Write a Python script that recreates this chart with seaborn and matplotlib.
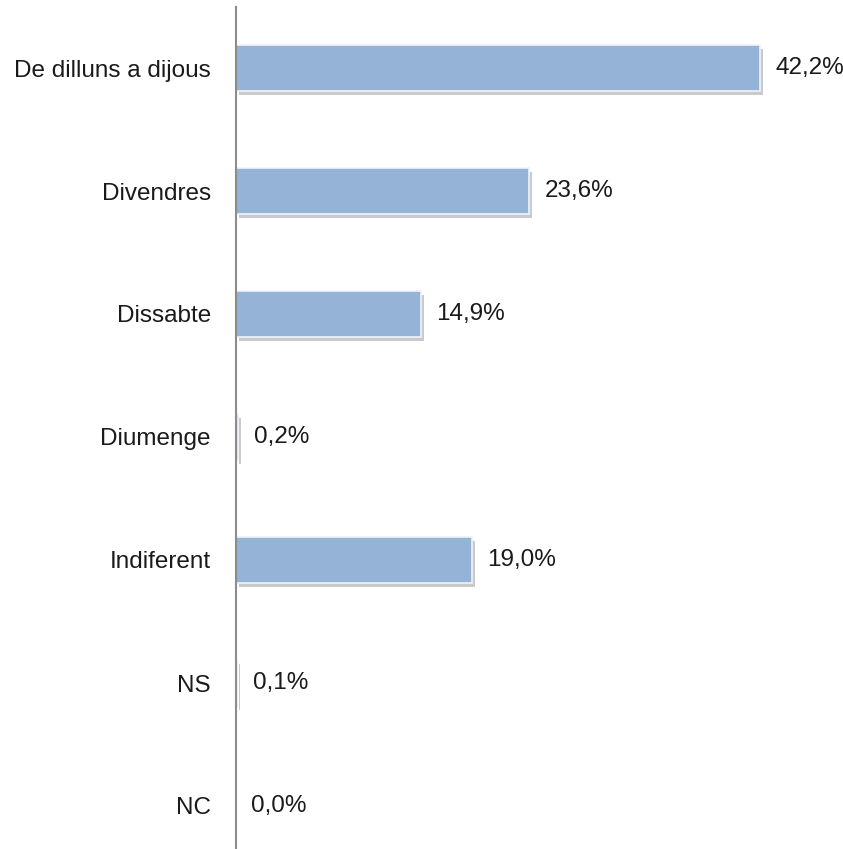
"""Horizontal bar chart: preferred day."""

import matplotlib
matplotlib.use('Agg')
import matplotlib.pyplot as plt
import matplotlib.patheffects as pe
import seaborn as sns

categories = ['De dilluns a dijous', 'Divendres', 'Dissabte', 'Diumenge',
              'Indiferent', 'NS', 'NC']
values = [42.2, 23.6, 14.9, 0.2, 19.0, 0.1, 0.0]

sns.set_style('white')
plt.rcParams['font.family'] = ['Liberation Sans', 'DejaVu Sans']

W, H = 843, 849
fig = plt.figure(figsize=(W / 100, H / 100), dpi=100)
# axis line starts near the top, bottom runs past the image edge
left, top, step = 236, 6.5, 123
bottom = top + step * len(categories)
ax = fig.add_axes([left / W, 1 - bottom / H, (W - left) / W, (bottom - top) / H])

sns.barplot(x=values, y=categories, orient='h', color='#95B3D7',
            width=0.375, saturation=1, edgecolor='#EEF3F9', linewidth=1.2, ax=ax)

for bar in ax.patches:
    bar.set_path_effects([
        pe.SimplePatchShadow(offset=(2, -3), shadow_rgbFace='#8a8a8a', alpha=0.45),
        pe.Normal(),
    ])

for i, v in enumerate(values):
    ax.annotate(f'{v:.1f}%'.replace('.', ','), xy=(v, i), xytext=(11, 0),
                textcoords='offset points', va='center', ha='left',
                fontsize=17.5, color='#1a1a1a')

ax.set_xlim(0, (W - left) / 12.42)
ax.set_ylim(len(categories) - 0.5, -0.5)
ax.set_xlabel('')
ax.set_ylabel('')
ax.set_xticks([])
ax.tick_params(axis='y', length=0, pad=18, labelsize=17.5, labelcolor='#1a1a1a')

for side in ['top', 'right', 'bottom']:
    ax.spines[side].set_visible(False)
ax.spines['left'].set_color('#8c8c8c')
ax.spines['left'].set_linewidth(1.5)

fig.savefig('out.png', dpi=100)
plt.close(fig)
